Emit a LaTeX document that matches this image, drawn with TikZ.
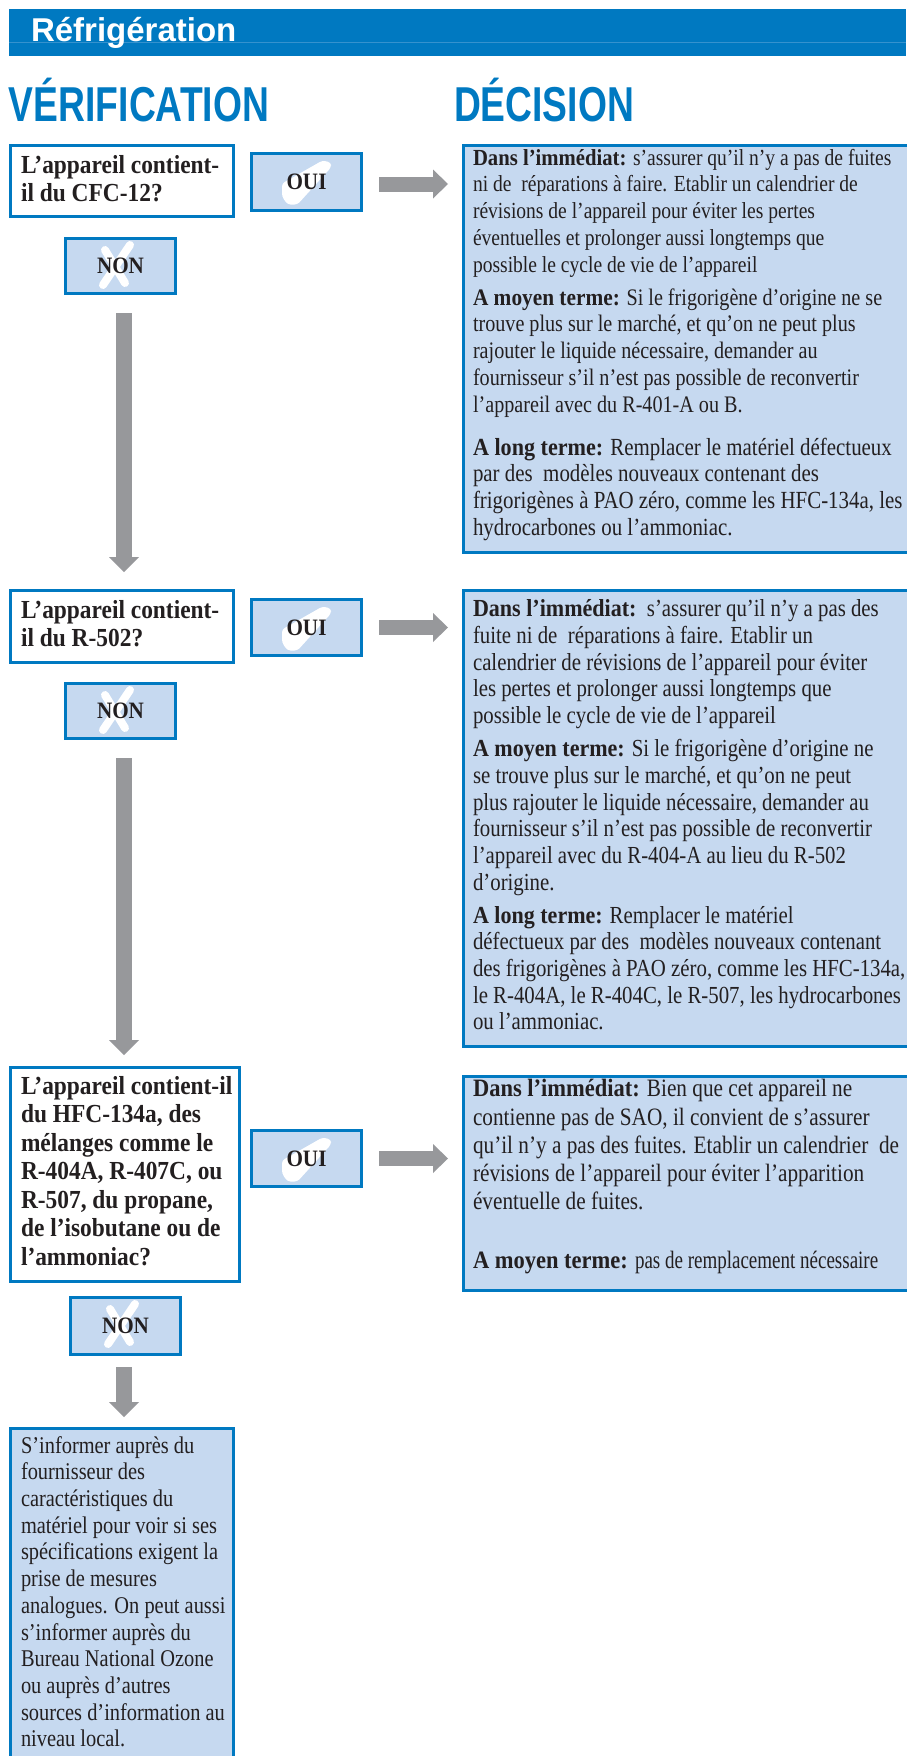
\documentclass[tikz,border=0pt]{standalone}
\usepackage{fontspec}
\setmainfont{Liberation Serif}[UprightFeatures={FakeStretch=0.85}, BoldFeatures={FakeStretch=0.9}]
\newfontfamily\narrowserif{Liberation Serif}[FakeStretch=0.76]
\newfontfamily\hdrfont{Liberation Sans}
\newfontfamily\ttlfont{Liberation Sans}[BoldFeatures={FakeStretch=0.76}]
\usetikzlibrary{arrows.meta}
\definecolor{ublue}{HTML}{0079C1}
\definecolor{lblue}{HTML}{C6D9F0}
\definecolor{agrey}{HTML}{97989B}
\definecolor{hlinec}{HTML}{3592CE}
\definecolor{ink}{HTML}{231F20}
\newcommand\fsDone{\fontsize{23}{26.8}\selectfont}
\newcommand\fsDoneb{\fontsize{23.7}{26.8}\selectfont}
\newcommand\fsDonec{\fontsize{24.6}{26.8}\selectfont}
\newcommand\fsDtwo{\fontsize{24.5}{26.67}\selectfont}
\newcommand\fsDthree{\fontsize{25}{28.3}\selectfont}
\newcommand\fsQ{\fontsize{26}{28.5}\selectfont\bfseries}
\newcommand\fsF{\fontsize{24}{26.67}\selectfont}
\newcommand\pbx[1]{\parbox[t]{600pt}{\raggedright #1}}
\begin{document}
\begin{tikzpicture}[x=1pt,y=-1pt,
  qbox/.style={draw=ublue, line width=3.5pt, fill=white, inner sep=0pt, outer sep=0pt, anchor=north west},
  fbox/.style={draw=ublue, line width=3.5pt, fill=lblue, inner sep=0pt, outer sep=0pt, anchor=north west},
  dbox/.style={draw=ublue, line width=3pt, fill=lblue, inner sep=0pt, outer sep=0pt, anchor=north west},
  ynbox/.style={draw=ublue, line width=3.5pt, fill=lblue, inner sep=0pt, outer sep=0pt, minimum width=110pt},
  yntext/.style={font=\fontsize{23.5}{26}\selectfont\bfseries, text=ink, inner sep=0pt},
  txt/.style={anchor=base west, inner sep=0pt, outer sep=0pt, text=ink},
  varrow/.style={draw=agrey, line width=16pt, -{Triangle[width=30pt,length=15pt,line width=0pt]}},
  harrow/.style={draw=agrey, line width=15pt, -{Triangle[width=29pt,length=15pt,line width=0pt]}},
  okmark/.pic={\fill[white, rounded corners=3pt] (30.5,30) -- (71,7) -- (79.5,9) -- (79.5,14) -- (46,51) -- (36,51) -- (30.5,43) -- cycle;},
  nomark/.pic={\draw[white, line width=8pt, line cap=round] (39.5,11.5) -- (59.5,44.5) (64.5,6.5) -- (37.5,46.5);}
]
\useasboundingbox (0,0) rectangle (906,1756);

% header
\node[fill=ublue, minimum width=897pt, minimum height=47pt, anchor=north west, inner sep=0pt, outer sep=0pt] (hdr) at (9,9) {};
\draw[hlinec, line width=1pt] (9,42.5) -- (906,42.5);
\node[txt, text=white] (hdrtext) at (31,41.5) {\hdrfont\bfseries\fontsize{33}{33}\selectfont Réfrigération};

\node[txt, text=ublue] (tverif) at (9,121) {\ttlfont\bfseries\fontsize{49}{49}\selectfont VÉRIFICATION};
\node[txt, text=ublue] (tdecis) at (454,121) {\ttlfont\bfseries\fontsize{49}{49}\selectfont DÉCISION};

% ---------- row 1
\node[qbox, minimum width=223pt, minimum height=71pt] (q1) at (10.5,145.5) {};
\node[txt] (q1t) at (21,173) {\pbx{\fsQ L’appareil contient-\\il du CFC-12?}};
\node[ynbox, minimum height=57pt] (oui1) at (306.5,182) {};
\pic at (oui1.north west) {okmark};
\node[yntext] (oui1t) at (oui1) {OUI};
\node[ynbox, minimum height=55pt] (non1) at (120.5,266) {};
\pic at (non1.north west) {nomark};
\node[yntext] (non1t) at (non1) {NON};

\node[dbox, minimum width=460pt, minimum height=407pt] (d1) at (463.5,145.5) {};
\node[txt] (d1a) at (473,165) {\pbx{\fsDone\textbf{Dans l’immédiat:} s’assurer qu’il n’y a pas de fuites\\
ni de\ \ réparations à faire. Etablir un calendrier de\\
révisions de l’appareil pour éviter les pertes\\
éventuelles et prolonger aussi longtemps que\\
possible le cycle de vie de l’appareil}};
\node[txt] (d1b) at (473,305) {\pbx{\fsDoneb\textbf{A moyen terme:} Si le frigorigène d’origine ne se\\
trouve plus sur le marché, et qu’on ne peut plus\\
rajouter le liquide nécessaire, demander au\\
fournisseur s’il n’est pas possible de reconvertir\\
l’appareil avec du R-401-A ou B.}};
\node[txt] (d1c) at (473,455) {\pbx{\fsDonec\textbf{A long terme:} Remplacer le matériel défectueux\\
par des\ \ modèles nouveaux contenant des\\
frigorigènes à PAO zéro, comme les HFC-134a, les\\
hydrocarbones ou l’ammoniac.}};

% ---------- row 2
\node[qbox, minimum width=223pt, minimum height=72pt] (q2) at (10.5,590.5) {};
\node[txt] (q2t) at (21,618) {\pbx{\fsQ L’appareil contient-\\il du R-502?}};
\node[ynbox, minimum height=56pt] (oui2) at (306.5,627.5) {};
\pic at (oui2.north west) {okmark};
\node[yntext] (oui2t) at (oui2) {OUI};
\node[ynbox, minimum height=55pt] (non2) at (120.5,711) {};
\pic at (non2.north west) {nomark};
\node[yntext] (non2t) at (non2) {NON};

\node[dbox, minimum width=460pt, minimum height=456pt] (d2) at (463.5,590.5) {};
\node[txt] (d2a) at (473,616.7) {\pbx{\fsDtwo\textbf{Dans l’immédiat:}\ \ s’assurer qu’il n’y a pas des\\
fuite ni de\ \ réparations à faire. Etablir un\\
calendrier de révisions de l’appareil pour éviter\\
les pertes et prolonger aussi longtemps que\\
possible le cycle de vie de l’appareil}};
\node[txt] (d2b) at (473,756.7) {\pbx{\fsDtwo\textbf{A moyen terme:} Si le frigorigène d’origine ne\\
se trouve plus sur le marché, et qu’on ne peut\\
plus rajouter le liquide nécessaire, demander au\\
fournisseur s’il n’est pas possible de reconvertir\\
l’appareil avec du R-404-A au lieu du R-502\\
d’origine.}};
\node[txt] (d2c) at (473,923.3) {\pbx{\fsDtwo\textbf{A long terme:} Remplacer le matériel\\
défectueux par des\ \ modèles nouveaux contenant\\
des frigorigènes à PAO zéro, comme les HFC-134a,\\
le R-404A, le R-404C, le R-507, les hydrocarbones\\
ou l’ammoniac.}};

% ---------- row 3
\node[qbox, minimum width=229pt, minimum height=214pt] (q3) at (10.5,1067.5) {};
\node[txt] (q3t) at (21,1094) {\pbx{\fsQ L’appareil contient-il\\
du HFC-134a, des\\
mélanges comme le\\
R-404A, R-407C, ou\\
R-507, du propane,\\
de l’isobutane ou de\\
l’ammoniac?}};
\node[ynbox, minimum height=56pt] (oui3) at (306.5,1158.5) {};
\pic at (oui3.north west) {okmark};
\node[yntext] (oui3t) at (oui3) {OUI};
\node[ynbox, minimum height=57pt] (non3) at (125.5,1326) {};
\pic at (non3.north west) {nomark};
\node[yntext] (non3t) at (non3) {NON};

\node[dbox, minimum width=460pt, minimum height=214pt] (d3) at (463.5,1076.5) {};
\node[txt] (d3a) at (473,1096.7) {\pbx{\fsDthree\textbf{Dans l’immédiat:} Bien que cet appareil ne\\
contienne pas de SAO, il convient de s’assurer\\
qu’il n’y a pas des fuites. Etablir un calendrier\ \ de\\
révisions de l’appareil pour éviter l’apparition\\
éventuelle de fuites.}};
\node[txt] (d3b) at (473,1268.3) {\pbx{\fsDthree\textbf{A moyen terme:} {\narrowserif pas de remplacement nécessaire}}};

% ---------- final box
\node[fbox, minimum width=223pt, minimum height=345pt] (fin) at (10.5,1428.5) {};
\node[txt] (fint) at (21,1453.3) {\pbx{\fsF S’informer auprès du\\
fournisseur des\\
caractéristiques du\\
matériel pour voir si ses\\
spécifications exigent la\\
prise de mesures\\
analogues. On peut aussi\\
s’informer auprès du\\
Bureau National Ozone\\
ou auprès d’autres\\
sources d’information au\\
niveau local.}};

% ---------- arrows
\draw[harrow] ([shift={(17.5pt,-2pt)}]oui1.east) -- ([shift={(-15.5pt,-2pt)}]d1.west |- oui1.east);
\draw[harrow] ([xshift=17.5pt]oui2.east) -- ([xshift=-15.5pt]d2.west |- oui2.east);
\draw[harrow] ([xshift=17.5pt]oui3.east) -- ([xshift=-15.5pt]d3.west |- oui3.east);

\draw[varrow] ([shift={(3.5pt,-19.5pt)}]non1.south) -- ([shift={(3.5pt,18.5pt)}]non1.south |- q2.north);
\draw[varrow] ([shift={(3.5pt,-19.5pt)}]non2.south) -- ([shift={(3.5pt,12.5pt)}]non2.south |- q3.north);
\draw[varrow] ([shift={(-1.5pt,-12.5pt)}]non3.south) -- ([shift={(-1.5pt,11.5pt)}]non3.south |- fin.north);
\end{tikzpicture}
\end{document}
